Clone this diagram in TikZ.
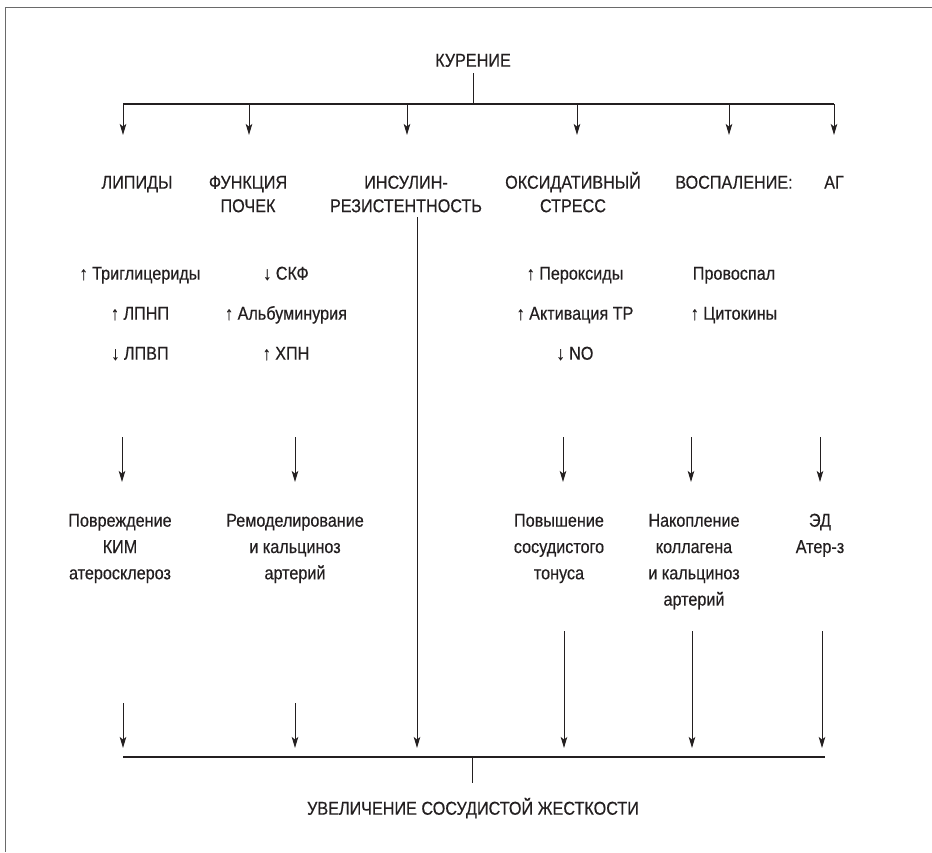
\documentclass[tikz,border=0pt]{standalone}
\usepackage{fontspec}
\setmainfont{Liberation Sans}[FakeStretch=0.87,FakeBold=0.4]
\usetikzlibrary{arrows.meta}
\definecolor{ink}{HTML}{231F20}
\definecolor{framegray}{HTML}{6A6A6A}
\tikzset{
  txt/.style={inner sep=0pt, anchor=base, align=center, text=ink},
  head/.style={txt, font=\fontsize{18.6}{23.5}\selectfont},
  lst/.style={txt, font=\fontsize{18.6}{40}\selectfont},
  outc/.style={txt, font=\fontsize{18.6}{26.3}\selectfont},
  conn/.style={draw=ink, line width=1pt},
  bar/.style={draw=ink, line width=1.6pt},
  arr/.style={conn, -{Stealth[length=11pt,width=6.5pt,inset=2.5pt]}},
  framel/.style={draw=framegray, line width=1pt}
}
\begin{document}
\begin{tikzpicture}[x=1pt,y=-1pt]
\useasboundingbox (0,0) rectangle (932,852);
\draw[framel] (932,7) -- (5,7) -- (5,852);

% top (base anchor = baseline of the last line)
\node[head] (smoke) at (473,66.7) {КУРЕНИЕ};
\coordinate (tbL) at (123,104);
\coordinate (tbM) at (473,104);
\coordinate (tbR) at (834,104);
\coordinate (smokeS) at (473,73);
\draw[conn] (smokeS) -- (tbM);
\draw[bar] (tbL) -- (tbR);

% headers
\node[head] (hLip) at (137,188.7) {ЛИПИДЫ};
\node[head] (hKid) at (248,212.2) {ФУНКЦИЯ\\ПОЧЕК};
\node[head] (hIns) at (406,212.2) {ИНСУЛИН-\\РЕЗИСТЕНТНОСТЬ};
\node[head] (hOx) at (573,212.2) {ОКСИДАТИВНЫЙ\\СТРЕСС};
\node[head] (hInf) at (734,188.7) {ВОСПАЛЕНИЕ:};
\node[head] (hAG) at (834,188.7) {АГ};

% arrows from top bar
\foreach \n/\x in {1/123,2/249,3/407,4/577,5/729,6/834}{
  \coordinate (ts\n) at (\x,104);
  \coordinate (te\n) at (\x,135);
  \draw[arr] (ts\n) -- (te\n);
}

% lists
\node[lst] (lLip) at (140,359.7) {↑ Триглицериды\\↑ ЛПНП\\↓ ЛПВП};
\node[lst] (lKid) at (286,359.7) {↓ СКФ\\↑ Альбуминурия\\↑ ХПН};
\node[lst] (lOx) at (575,359.7) {↑ Пероксиды\\↑ Активация ТР\\↓ NO};
\node[lst] (lInf) at (734,319.7) {Провоспал\\↑ Цитокины};

% middle arrows
\foreach \n/\x in {1/122,2/295,3/563,4/691,5/820}{
  \coordinate (ms\n) at (\x,437);
  \coordinate (me\n) at (\x,482);
  \draw[arr] (ms\n) -- (me\n);
}

% outcomes
\node[outc] (oLip) at (120,579.3) {Повреждение\\КИМ\\атеросклероз};
\node[outc] (oKid) at (295,579.3) {Ремоделирование\\и кальциноз\\артерий};
\node[outc] (oOx) at (559,579.3) {Повышение\\сосудистого\\тонуса};
\node[outc] (oInf) at (694,605.6) {Накопление\\коллагена\\и кальциноз\\артерий};
\node[outc] (oAG) at (820,553.0) {ЭД\\Атер-з};

% bottom arrows
\coordinate (insS) at (417,217);
\foreach \n/\x/\y in {1/123/703,2/295/703,4/564/631,5/692/631,6/822/631}{
  \coordinate (bs\n) at (\x,\y);
  \coordinate (be\n) at (\x,748);
  \draw[arr] (bs\n) -- (be\n);
}
\coordinate (be3) at (417,748);
\draw[arr] (insS) -- (be3);

% bottom bar and result
\coordinate (bbL) at (123,757);
\coordinate (bbM) at (472,757);
\coordinate (bbR) at (825,757);
\draw[bar] (bbL) -- (bbR);
\node[head] (res) at (473,814.7) {УВЕЛИЧЕНИЕ СОСУДИСТОЙ ЖЕСТКОСТИ};
\coordinate (resN) at (472,783);
\draw[conn] (bbM) -- (resN);
\end{tikzpicture}
\end{document}
